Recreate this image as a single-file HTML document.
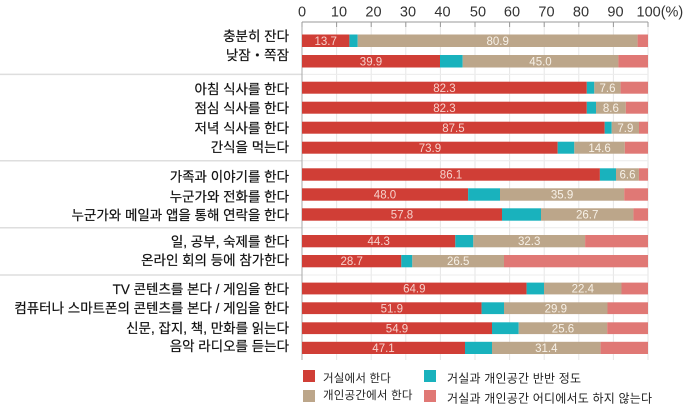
<!DOCTYPE html>
<html><head><meta charset="utf-8"><style>
html,body{margin:0;padding:0;background:#fff;}
svg{display:block;}
.lab{font-family:"Liberation Sans","Noto Sans CJK KR",sans-serif;font-size:13.5px;fill:#111;stroke:#111;stroke-width:0.2px;letter-spacing:0px;}
.tick{font-family:"Liberation Sans",sans-serif;font-size:14.5px;fill:#333;}
.v{font-family:"Liberation Sans",sans-serif;font-size:11.5px;text-anchor:middle;}
.vr{fill:#f6d2cc;}
.vt{fill:#f7f1e8;}
.lg{font-family:"Liberation Sans","Noto Sans CJK KR",sans-serif;font-size:11.5px;fill:#222;letter-spacing:0.2px;}
.lg2{font-family:"Liberation Sans","Noto Sans CJK KR",sans-serif;font-size:12px;fill:#222;letter-spacing:0.2px;}
</style></head><body>
<svg width="690" height="408" viewBox="0 0 690 408" xmlns="http://www.w3.org/2000/svg">
<rect width="690" height="408" fill="#fff"/>
<g stroke="#e6e6e6" stroke-width="1">
<line x1="336.6" y1="22" x2="336.6" y2="360"/>
<line x1="371.2" y1="22" x2="371.2" y2="360"/>
<line x1="405.8" y1="22" x2="405.8" y2="360"/>
<line x1="440.4" y1="22" x2="440.4" y2="360"/>
<line x1="475" y1="22" x2="475" y2="360"/>
<line x1="509.6" y1="22" x2="509.6" y2="360"/>
<line x1="544.2" y1="22" x2="544.2" y2="360"/>
<line x1="578.8" y1="22" x2="578.8" y2="360"/>
<line x1="613.4" y1="22" x2="613.4" y2="360"/>
<line x1="648" y1="22" x2="648" y2="360"/>
</g>
<g stroke="#dedede" stroke-width="1.5">
<line x1="0" y1="74.4" x2="302" y2="74.4"/>
<line x1="0" y1="160.8" x2="302" y2="160.8"/>
<line x1="0" y1="227.8" x2="302" y2="227.8"/>
<line x1="0" y1="275" x2="302" y2="275"/>
</g>
<g stroke="#ececec" stroke-width="1">
<line x1="302" y1="74.4" x2="648" y2="74.4"/>
<line x1="302" y1="160.8" x2="648" y2="160.8"/>
<line x1="302" y1="227.8" x2="648" y2="227.8"/>
<line x1="302" y1="275" x2="648" y2="275"/>
</g>
<line x1="302" y1="22" x2="648" y2="22" stroke="#999" stroke-width="1"/>
<line x1="302" y1="22" x2="302" y2="360" stroke="#aaa" stroke-width="1"/>
<g stroke="#999" stroke-width="1">
<line x1="302" y1="22" x2="302" y2="27"/><line x1="336.6" y1="22" x2="336.6" y2="27"/>
<line x1="371.2" y1="22" x2="371.2" y2="27"/><line x1="405.8" y1="22" x2="405.8" y2="27"/>
<line x1="440.4" y1="22" x2="440.4" y2="27"/><line x1="475" y1="22" x2="475" y2="27"/>
<line x1="509.6" y1="22" x2="509.6" y2="27"/><line x1="544.2" y1="22" x2="544.2" y2="27"/>
<line x1="578.8" y1="22" x2="578.8" y2="27"/><line x1="613.4" y1="22" x2="613.4" y2="27"/>
<line x1="648" y1="22" x2="648" y2="27"/>
</g>
<g class="tick" text-anchor="middle">
<text x="302" y="16.5">0</text>
<text x="339" y="16.5">10</text>
<text x="373.5" y="16.5">20</text>
<text x="408" y="16.5">30</text>
<text x="442.5" y="16.5">40</text>
<text x="478" y="16.5">50</text>
<text x="512" y="16.5">60</text>
<text x="546.5" y="16.5">70</text>
<text x="581" y="16.5">80</text>
<text x="615.5" y="16.5">90</text>
<text x="636.5" y="16.5" text-anchor="start">100(%)</text>
</g>
<g class="lab" text-anchor="end">
<text x="289" y="41">충분히 잔다</text>
<text x="289" y="60">낮잠・쪽잠</text>
<text x="289" y="94">아침 식사를 한다</text>
<text x="289" y="113">점심 식사를 한다</text>
<text x="289" y="133">저녁 식사를 한다</text>
<text x="289" y="152">간식을 먹는다</text>
<text x="289" y="181.5">가족과 이야기를 한다</text>
<text x="289" y="201.5">누군가와 전화를 한다</text>
<text x="289" y="220">누군가와 메일과 앱을 통해 연락을 한다</text>
<text x="289" y="246.5">일, 공부, 숙제를 한다</text>
<text x="289" y="265">온라인 회의 등에 참가한다</text>
<text x="289" y="294">TV 콘텐츠를 본다 / 게임을 한다</text>
<text x="289" y="313">컴퓨터나 스마트폰의 콘텐츠를 본다 / 게임을 한다</text>
<text x="289" y="333">신문, 잡지, 책, 만화를 읽는다</text>
<text x="289" y="351">음악 라디오를 듣는다</text>
</g>
<g>
<rect x="302" y="34.5" width="47.4" height="12.5" fill="#d03e36"/>
<rect x="349.4" y="34.5" width="8.3" height="12.5" fill="#19b2bd"/>
<rect x="357.7" y="34.5" width="279.9" height="12.5" fill="#bca68a"/>
<rect x="637.6" y="34.5" width="10.4" height="12.5" fill="#e07875"/>
<rect x="302" y="55" width="138" height="12.5" fill="#d03e36"/>
<rect x="440" y="55" width="22.7" height="12.5" fill="#19b2bd"/>
<rect x="462.7" y="55" width="155.7" height="12.5" fill="#bca68a"/>
<rect x="618.4" y="55" width="29.6" height="12.5" fill="#e07875"/>
<rect x="302" y="81.7" width="284.8" height="12" fill="#d03e36"/>
<rect x="586.8" y="81.7" width="7.5" height="12" fill="#19b2bd"/>
<rect x="594.3" y="81.7" width="26.3" height="12" fill="#bca68a"/>
<rect x="620.6" y="81.7" width="27.4" height="12" fill="#e07875"/>
<rect x="302" y="101.7" width="284.8" height="12" fill="#d03e36"/>
<rect x="586.8" y="101.7" width="9.2" height="12" fill="#19b2bd"/>
<rect x="596" y="101.7" width="29.8" height="12" fill="#bca68a"/>
<rect x="625.8" y="101.7" width="22.2" height="12" fill="#e07875"/>
<rect x="302" y="121.7" width="302.7" height="12" fill="#d03e36"/>
<rect x="604.7" y="121.7" width="7" height="12" fill="#19b2bd"/>
<rect x="611.7" y="121.7" width="27.3" height="12" fill="#bca68a"/>
<rect x="639" y="121.7" width="9" height="12" fill="#e07875"/>
<rect x="302" y="141.7" width="255.7" height="12" fill="#d03e36"/>
<rect x="557.7" y="141.7" width="16.6" height="12" fill="#19b2bd"/>
<rect x="574.3" y="141.7" width="50.5" height="12" fill="#bca68a"/>
<rect x="624.8" y="141.7" width="23.2" height="12" fill="#e07875"/>
<rect x="302" y="168.3" width="297.9" height="12.4" fill="#d03e36"/>
<rect x="599.9" y="168.3" width="16.1" height="12.4" fill="#19b2bd"/>
<rect x="616" y="168.3" width="22.9" height="12.4" fill="#bca68a"/>
<rect x="638.9" y="168.3" width="9.1" height="12.4" fill="#e07875"/>
<rect x="302" y="188.3" width="166.1" height="12.4" fill="#d03e36"/>
<rect x="468.1" y="188.3" width="31.9" height="12.4" fill="#19b2bd"/>
<rect x="500" y="188.3" width="124.2" height="12.4" fill="#bca68a"/>
<rect x="624.2" y="188.3" width="23.8" height="12.4" fill="#e07875"/>
<rect x="302" y="208.3" width="200" height="12.4" fill="#d03e36"/>
<rect x="502" y="208.3" width="39" height="12.4" fill="#19b2bd"/>
<rect x="541" y="208.3" width="92.4" height="12.4" fill="#bca68a"/>
<rect x="633.4" y="208.3" width="14.6" height="12.4" fill="#e07875"/>
<rect x="302" y="235" width="153.3" height="12.3" fill="#d03e36"/>
<rect x="455.3" y="235" width="18" height="12.3" fill="#19b2bd"/>
<rect x="473.3" y="235" width="111.8" height="12.3" fill="#bca68a"/>
<rect x="585.1" y="235" width="62.9" height="12.3" fill="#e07875"/>
<rect x="302" y="255" width="99.3" height="12.3" fill="#d03e36"/>
<rect x="401.3" y="255" width="11" height="12.3" fill="#19b2bd"/>
<rect x="412.3" y="255" width="91.7" height="12.3" fill="#bca68a"/>
<rect x="504" y="255" width="144" height="12.3" fill="#e07875"/>
<rect x="302" y="282.6" width="224.6" height="11.8" fill="#d03e36"/>
<rect x="526.6" y="282.6" width="17.4" height="11.8" fill="#19b2bd"/>
<rect x="544" y="282.6" width="77.5" height="11.8" fill="#bca68a"/>
<rect x="621.5" y="282.6" width="26.5" height="11.8" fill="#e07875"/>
<rect x="302" y="302.3" width="179.6" height="11.8" fill="#d03e36"/>
<rect x="481.6" y="302.3" width="22.4" height="11.8" fill="#19b2bd"/>
<rect x="504" y="302.3" width="103.5" height="11.8" fill="#bca68a"/>
<rect x="607.5" y="302.3" width="40.5" height="11.8" fill="#e07875"/>
<rect x="302" y="322.3" width="190" height="11.8" fill="#d03e36"/>
<rect x="492" y="322.3" width="26.7" height="11.8" fill="#19b2bd"/>
<rect x="518.7" y="322.3" width="88.5" height="11.8" fill="#bca68a"/>
<rect x="607.2" y="322.3" width="40.8" height="11.8" fill="#e07875"/>
<rect x="302" y="341.8" width="163" height="12.2" fill="#d03e36"/>
<rect x="465" y="341.8" width="27" height="12.2" fill="#19b2bd"/>
<rect x="492" y="341.8" width="108.6" height="12.2" fill="#bca68a"/>
<rect x="600.6" y="341.8" width="47.4" height="12.2" fill="#e07875"/>
</g>
<g class="v">
<text class="vr" x="325.7" y="44.8">13.7</text>
<text class="vt" x="497.7" y="44.8">80.9</text>
<text class="vr" x="371" y="65.3">39.9</text>
<text class="vt" x="540.5" y="65.3">45.0</text>
<text class="vr" x="444.4" y="91.8">82.3</text>
<text class="vt" x="607.5" y="91.8">7.6</text>
<text class="vr" x="444.4" y="111.8">82.3</text>
<text class="vt" x="610.9" y="111.8">8.6</text>
<text class="vr" x="453.4" y="131.8">87.5</text>
<text class="vt" x="625.4" y="131.8">7.9</text>
<text class="vr" x="429.9" y="151.8">73.9</text>
<text class="vt" x="599.6" y="151.8">14.6</text>
<text class="vr" x="451" y="178.6">86.1</text>
<text class="vt" x="627.5" y="178.6">6.6</text>
<text class="vr" x="385" y="198.6">48.0</text>
<text class="vt" x="562.1" y="198.6">35.9</text>
<text class="vr" x="402" y="218.6">57.8</text>
<text class="vt" x="587.2" y="218.6">26.7</text>
<text class="vr" x="378.7" y="245.2">44.3</text>
<text class="vt" x="529.2" y="245.2">32.3</text>
<text class="vr" x="351.7" y="265.2">28.7</text>
<text class="vt" x="458.2" y="265.2">26.5</text>
<text class="vr" x="414.3" y="292.6">64.9</text>
<text class="vt" x="582.8" y="292.6">22.4</text>
<text class="vr" x="391.8" y="312.3">51.9</text>
<text class="vt" x="555.8" y="312.3">29.9</text>
<text class="vr" x="397" y="332.3">54.9</text>
<text class="vt" x="563" y="332.3">25.6</text>
<text class="vr" x="383.5" y="352">47.1</text>
<text class="vt" x="546.3" y="352">31.4</text>
</g>
<rect x="303" y="370" width="12" height="12" fill="#d03e36"/>
<rect x="303" y="390" width="12" height="12" fill="#bca68a"/>
<rect x="424" y="370" width="12" height="12" fill="#19b2bd"/>
<rect x="424" y="390" width="12" height="12" fill="#e07875"/>
<g class="lg">
<text x="323" y="382">거실에서 한다</text>
<text x="323" y="399">개인공간에서 한다</text>
</g>
<g class="lg2">
<text x="447" y="382.5">거실과 개인공간 반반 정도</text>
<text x="447" y="402.5">거실과 개인공간 어디에서도 하지 않는다</text>
</g>
</svg>
</body></html>
